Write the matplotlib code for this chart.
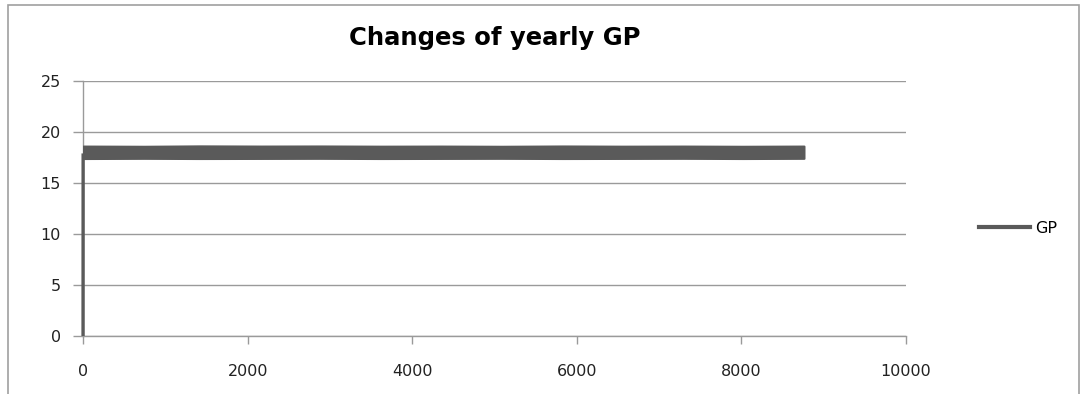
import matplotlib.pyplot as plt
from matplotlib.lines import Line2D
from matplotlib.patches import Rectangle

# =========================
# DATA
# =========================
# first two hourly readings (start-up from zero)
start_hours = [0, 1]
start_gp = [0.0, 17.9]

# hourly GP over the year, summarised as the min / max band at month ends
band_hours = [1, 744, 1416, 2160, 2880, 3624, 4344, 5088, 5832, 6552, 7296, 8016, 8760]
gp_max = [18.62, 18.60, 18.64, 18.62, 18.63, 18.61, 18.62, 18.60, 18.63, 18.61, 18.62, 18.60, 18.62]
gp_min = [17.40, 17.42, 17.40, 17.41, 17.42, 17.40, 17.41, 17.42, 17.40, 17.41, 17.42, 17.40, 17.42]

x_ticks = [0, 2000, 4000, 6000, 8000, 10000]
y_ticks = [0, 5, 10, 15, 20, 25]

line_color = "#5a5a5a"
grid_color = "#9a9a9a"

# =========================
# PLOT
# =========================
fig = plt.figure(figsize=(10.8, 3.94), dpi=100)
ax = fig.add_axes([0.0769, 0.1472, 0.762, 0.6472])

ax.plot(start_hours, start_gp, color=line_color, lw=2.4, solid_capstyle="butt",
        zorder=4, clip_on=False)
ax.fill_between(band_hours, gp_min, gp_max, color=line_color, edgecolor=line_color,
                lw=1.5, joinstyle="round", zorder=4)

ax.set_xlim(0, 10000)
ax.set_ylim(0, 25)
ax.set_xticks(x_ticks)
ax.set_yticks(y_ticks)
ax.tick_params(axis="both", colors=grid_color, labelcolor="#222222", labelsize=11.5, width=1)
ax.tick_params(axis="y", length=7, pad=9)
ax.tick_params(axis="x", length=6, pad=14)
ax.grid(axis="y", color=grid_color, lw=1)
ax.set_axisbelow(True)

for side in ["top", "right"]:
    ax.spines[side].set_visible(False)
for side in ["left", "bottom"]:
    ax.spines[side].set_color(grid_color)
    ax.spines[side].set_linewidth(1)

fig.text(0.458, 0.903, "Changes of yearly GP", ha="center", va="center",
         fontsize=17.5, fontweight="bold")

handle = Line2D([], [], color=line_color, lw=3)
fig.legend([handle], ["GP"], loc="center left", bbox_to_anchor=(0.893, 0.42),
           frameon=False, handlelength=3.2, handletextpad=0.3, fontsize=11.5)

# outer chart frame
fig.patches.append(Rectangle((8 / 1080, -0.1), 1071 / 1080, 1.1 - 5 / 394,
                             transform=fig.transFigure, fill=False,
                             edgecolor="#a0a0a0", lw=1.2))

plt.savefig("out.png", dpi=100)
